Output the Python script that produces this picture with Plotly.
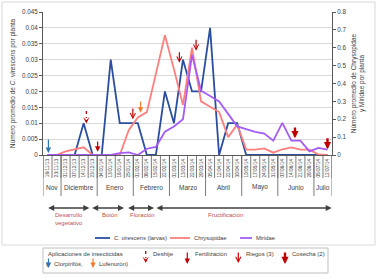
import plotly.graph_objects as go

# ---------------- data ----------------
fechas = ["16/11/13", "23/11/13", "01/12/13", "07/12/13", "14/12/13", "23/12/13",
          "04/01/14", "13/01/14", "18/01/14", "25/01/14", "01/02/14", "08/02/14",
          "15/02/14", "22/02/14", "01/03/14", "13/03/14", "22/03/14", "29/03/14",
          "05/04/14", "12/04/14", "22/04/14", "30/04/14", "10/05/14", "17/05/14",
          "24/05/14", "31/05/14", "07/06/14", "14/06/14", "21/06/14", "28/06/14",
          "05/07/14", "12/07/14"]
meses = ["Nov", "Diciembre", "Enero", "Febrero", "Marzo", "Abril", "Mayo", "Junio", "Julio"]
meses_n = [2, 4, 4, 4, 4, 4, 4, 4, 2]

virescens = [0, 0, 0, 0, 0.01, 0, 0, 0.03, 0.01, 0.01, 0.01, 0, 0, 0.02, 0.01, 0.03,
             0.02, 0.02, 0.04, 0, 0.01, 0.01, 0, 0, 0, 0, 0, 0, 0, 0, 0, 0]
chrysopidae = [0, 0, 0.02, 0.03, 0.043, 0, 0, 0, 0, 0.14, 0.21, 0.24, 0.45, 0.67, 0.48, 0.28,
               0.6, 0.3, 0.27, 0.24, 0.1, 0.17, 0.03, 0.03, 0.037, 0.013, 0.032, 0.043, 0.03,
               0.03, 0.003, 0]
miridae = [0, 0, 0, 0, 0, 0, 0, 0, 0.01, 0.015, 0, 0.035, 0.045, 0.13, 0.16, 0.2, 0.56, 0.36,
           0.33, 0.3, 0.23, 0.16, 0.145, 0.13, 0.12, 0.08, 0.18, 0.08, 0.08, 0.02, 0.04, 0.03]

series_names = ["<i>C. virescens</i> (larvas)", "Chrysopidae", "Miridae"]
series_colors = ["#2b4f9e", "#ff7f7f", "#a45cf5"]

fenologia = ["Desarrollo<br>vegetativo", "Botón", "Floración", "Fructificación"]

# event positions (category index along the x axis)
ev_clorpirifos = [0.1]
ev_lufenuron = [10.3]
ev_deshije = [4.3]
ev_fertilizacion = [5.55]
ev_riegos = [9.45, 14.6, 16.45]
ev_cosecha = [27.4, 31.0]

# ---------------- geometry helpers ----------------
W, H = 378, 278
L, R, T, B = 43, 46, 12, 123
PW, PH = W - L - R, H - T - B


def px(x):
    return (x - L) / PW


def py(y):
    return (T + PH - y) / PH


FONT = "Liberation Sans"
TXT = "#404040"
AX = "#595959"
RED = "#c00000"
BLUE = "#2e75b6"
ORANGE = "#ed7d31"

fig = go.Figure()
for yv, nm, col, ax_ in zip([virescens, chrysopidae, miridae], series_names, series_colors,
                            ["y", "y2", "y2"]):
    fig.add_trace(go.Scatter(x=fechas, y=yv, name=nm, mode="lines",
                             line=dict(color=col, width=1.8), yaxis=ax_, showlegend=False))

shapes = []
annotations = []


def text(t, x, y, xref="paper", xanchor="center", size=6, color=TXT):
    annotations.append(dict(text=t, xref=xref, yref="paper", x=x, y=py(y),
                            xanchor=xanchor, yanchor="middle", showarrow=False,
                            font=dict(size=size, color=color, family=FONT)))


# category separators under the axis
for k in range(len(fechas) + 1):
    shapes.append(dict(type="line", xref="x", yref="paper", x0=k - 0.5, x1=k - 0.5,
                       y0=py(178), y1=0, line=dict(color=AX, width=0.8)))
# month separators + month labels
pos = -0.5
shapes.append(dict(type="line", xref="x", yref="paper", x0=pos, x1=pos,
                   y0=py(196), y1=0, line=dict(color=AX, width=0.8)))
for m, n in zip(meses, meses_n):
    text(m, pos + n / 2, 187, xref="x", size=6.5)
    pos += n
    shapes.append(dict(type="line", xref="x", yref="paper", x0=pos, x1=pos,
                       y0=py(196), y1=0, line=dict(color=AX, width=0.8)))

# phenology double arrows
segs = [(46.7, 89.3), (90.7, 124.0), (126.7, 154.0), (155.0, 331.7)]
lab_pos = [(69, 219), (110, 214.5), (142, 214.5), (225, 214.5)]
for (a, b), lab, (lx, ly) in zip(segs, fenologia, lab_pos):
    annotations.append(dict(text="", xref="paper", yref="paper", x=px(b), y=py(208),
                            ax=-(b - a), ay=0, axref="pixel", ayref="pixel",
                            showarrow=True, arrowside="end+start", arrowhead=2,
                            arrowsize=0.8, arrowwidth=1.5, arrowcolor="#404040"))
    text(lab, px(lx), ly, color="#c0504d")


def arrow(xref, x, tip, tail, color, head, width=1.2, size=0.9):
    annotations.append(dict(text="", xref=xref, yref="paper", x=x, y=py(tip), ax=0,
                            ay=-(tip - tail), showarrow=True, arrowhead=head,
                            arrowsize=size, arrowwidth=width, arrowcolor=color))


def dotted(xref, x, top, bottom):
    shapes.append(dict(type="line", xref=xref, yref="paper", x0=x, x1=x, y0=py(top),
                       y1=py(bottom), line=dict(color=RED, width=1.3, dash="dot")))


# events on the chart
arrow("x", ev_clorpirifos[0], 153, 138, BLUE, 2)
arrow("x", ev_lufenuron[0], 112.7, 100, ORANGE, 2)
dotted("x", ev_deshije[0], 111, 118)
arrow("x", ev_deshije[0], 123.5, 118.5, RED, 3, 1.2, 0.9)
arrow("x", ev_fertilizacion[0], 151.7, 140, RED, 2)
for x, (tip, tail) in zip(ev_riegos, [(119.3, 107), (62.7, 50.7), (50.7, 38.3)]):
    arrow("x", x, tip, tail, RED, 5, 1.2, 0.85)
for x, (tip, tail) in zip(ev_cosecha, [(138.3, 126), (149.3, 136.7)]):
    arrow("x", x, tip, tail, RED, 2, 2.4, 0.6)

# series legend (drawn manually, Excel-like short samples)
leg_items = [(95, 110, 112), (170, 190, 192), (240, 252, 254)]
for (x0, x1, xt), nm, col in zip(leg_items, series_names, series_colors):
    shapes.append(dict(type="line", xref="paper", yref="paper", x0=px(x0), x1=px(x1),
                       y0=py(238), y1=py(238), line=dict(color=col, width=1.8)))
    text(nm, px(xt), 238, xanchor="left", size=5.8)

# legend box for events
shapes.append(dict(type="rect", xref="paper", yref="paper", x0=px(43), x1=px(328),
                   y0=py(273), y1=py(248), line=dict(color="#bfbfbf", width=1)))
# outer chart frame
shapes.append(dict(type="rect", xref="paper", yref="paper", x0=px(2), x1=px(375),
                   y0=py(245), y1=py(2), line=dict(color="#d9d9d9", width=1)))

text("Aplicaciones de insecticidas", px(46), 254, xanchor="left")
text("(", px(43.5), 263.5, xanchor="left")
arrow("paper", px(48.5), 268, 257, BLUE, 2)
text("Clorpirifós,", px(52), 263.5, xanchor="left")
arrow("paper", px(93), 268, 257, ORANGE, 2)
text("Lufenurón)", px(97), 263.5, xanchor="left")
dotted("paper", px(145.7), 251, 258)
arrow("paper", px(145.7), 263, 258, RED, 3)
text("Deshije", px(151), 254, xanchor="left")
arrow("paper", px(187.3), 264, 251, RED, 2)
text("Fertilización", px(192.5), 254, xanchor="left")
arrow("paper", px(238.3), 263, 251, RED, 5, 1.2, 0.85)
text("Riegos (3)", px(244), 254, xanchor="left")
arrow("paper", px(285), 264, 251, RED, 2, 2.4, 0.6)
text("Cosecha (2)", px(289.5), 254, xanchor="left")

fig.update_layout(
    width=W, height=H,
    margin=dict(l=L, r=R, t=T, b=B, pad=0, autoexpand=False),
    paper_bgcolor="white", plot_bgcolor="white",
    font=dict(family=FONT, color=TXT, size=6.5),
    showlegend=False,
    xaxis=dict(type="category", range=[-0.5, len(fechas) - 0.5], tickangle=-90,
               tickfont=dict(size=4.8, color=TXT), showgrid=False, showline=True,
               linecolor=AX, linewidth=1, ticks="", ticklabelstandoff=1,
               zeroline=False, fixedrange=True, automargin=False),
    yaxis=dict(range=[0, 0.045], dtick=0.005, showgrid=True, gridcolor="#d9d9d9",
               gridwidth=1, showline=True, linecolor=AX, linewidth=1, ticks="outside",
               ticklen=3, tickcolor=AX, zeroline=False, tickfont=dict(size=6.3, color=TXT),
               automargin=False,
               title=dict(text="Número promedio de <i>C. virescens</i> por planta",
                          font=dict(size=6.5, color=TXT), standoff=5)),
    yaxis2=dict(range=[0, 0.8], dtick=0.1, overlaying="y", side="right", showgrid=False,
                showline=True, linecolor=AX, linewidth=1, ticks="outside", ticklen=3,
                tickcolor=AX, zeroline=False, tickfont=dict(size=6.3, color=TXT),
                automargin=False,
                title=dict(text="Número promedio de Chrysopidae<br>y Miridae por planta",
                           font=dict(size=6.5, color=TXT), standoff=5)),
    shapes=shapes,
    annotations=annotations,
)

fig.write_html("out.html", config={"displayModeBar": False},
               post_script="document.body.style.margin='0';document.body.style.overflow='hidden';")
